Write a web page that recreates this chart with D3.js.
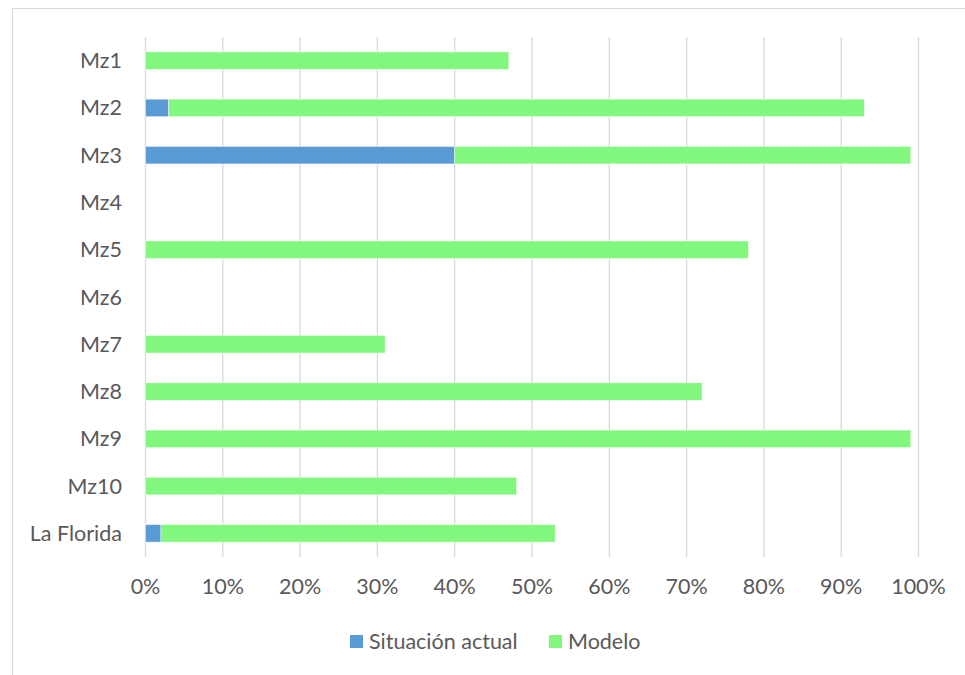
<head>
    <meta charset="utf-8"/>
    <script src="https://d3js.org/d3.v7.min.js"></script>
    <style>
        body { margin: 0; background: #fff; }
        text { font-family: Lato, "Open Sans", sans-serif; fill: #595959; }
    </style>
</head>
<body>
    <svg id="chart" width="965" height="675"></svg>
    <script>
        // data (percent)
        var categories = ["Mz1", "Mz2", "Mz3", "Mz4", "Mz5", "Mz6", "Mz7", "Mz8", "Mz9", "Mz10", "La Florida"];
        var situacionActual = [0, 3, 40, 0, 0, 0, 0, 0, 0, 0, 2];
        var modelo = [47, 90, 59, 0, 78, 0, 31, 72, 99, 48, 51];
        var seriesNames = ["Situación actual", "Modelo"];
        var seriesColors = ["#5B9BD5", "#82F77E"];
        var xTicks = [0, 10, 20, 30, 40, 50, 60, 70, 80, 90, 100];

        let svg = d3.select("svg#chart");

        // outer chart border
        svg.append("rect")
            .attr("x", 12.5).attr("y", 8.5)
            .attr("width", 965).attr("height", 700)
            .style("fill", "none")
            .style("stroke", "#D9D9D9")
            .style("stroke-width", 1);

        let xScale = d3.scaleLinear().domain([0, 100]).range([145.5, 918.5]);
        let yScale = d3.scaleBand().domain(categories).range([37, 557]).paddingInner(0.63).paddingOuter(0.315);

        // gridlines
        xTicks.forEach(function(t) {
            svg.append("line")
                .attr("x1", xScale(t)).attr("x2", xScale(t))
                .attr("y1", 37).attr("y2", 557)
                .style("stroke", "#D9D9D9")
                .style("stroke-width", 1.3);
        });

        // stacked bars
        let rows = categories.map(function(c, i) {
            return { cat: c, a: situacionActual[i], m: modelo[i] };
        });
        let stack = d3.stack().keys(["a", "m"])(rows);
        stack.forEach(function(layer, k) {
            svg.append("g").selectAll("rect")
                .data(layer)
                .join("rect")
                .filter(function(d) { return d[1] - d[0] > 0; })
                .attr("x", function(d) { return xScale(d[0]); })
                .attr("y", function(d) { return yScale(d.data.cat); })
                .attr("width", function(d) { return xScale(d[1]) - xScale(d[0]); })
                .attr("height", yScale.bandwidth())
                .style("fill", seriesColors[k])
                .style("stroke", "#fff")
                .style("stroke-opacity", 0.6)
                .style("stroke-width", 0.75);
        });

        // category labels
        categories.forEach(function(c) {
            svg.append("text")
                .text(c)
                .attr("x", 122)
                .attr("y", yScale(c) + yScale.bandwidth() / 2)
                .attr("dy", "0.35em")
                .attr("text-anchor", "end")
                .style("font-size", "21.5px");
        });

        // x tick labels
        xTicks.forEach(function(t) {
            svg.append("text")
                .text(t + "%")
                .attr("x", xScale(t))
                .attr("y", 594)
                .attr("text-anchor", "middle")
                .style("font-size", "21.5px");
        });

        // legend
        let legendX = [350, 549];
        seriesNames.forEach(function(name, i) {
            svg.append("rect")
                .attr("x", legendX[i]).attr("y", 635)
                .attr("width", 13).attr("height", 13)
                .style("fill", seriesColors[i]);
            svg.append("text")
                .text(name)
                .attr("x", legendX[i] + 19)
                .attr("y", 641.5)
                .attr("dy", "0.35em")
                .style("font-size", "21.5px");
        });
    </script>
</body>
